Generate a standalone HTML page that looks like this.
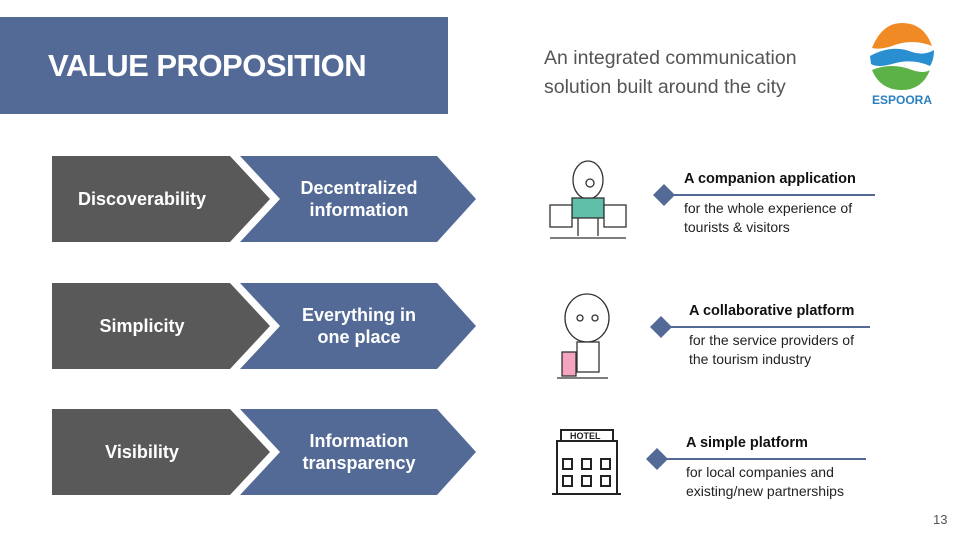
<!DOCTYPE html>
<html><head><meta charset="utf-8"><style>
body{margin:0;width:960px;height:540px;background:#fff;position:relative;overflow:hidden;font-family:"Liberation Sans",sans-serif}
.a{position:absolute}
.chev{color:#fff;font-weight:bold;font-size:18px;text-align:center;line-height:22px;display:flex;align-items:center;justify-content:center}
.t{font-weight:bold;font-size:14.5px;color:#111}
.b{font-size:14px;color:#222;line-height:19px}
</style></head><body>
<div class="a" style="left:0;top:17px;width:448px;height:97px;background:#546a96"></div>
<div class="a" style="left:48px;top:48px;color:#fff;font-weight:bold;font-size:31px;letter-spacing:-0.5px">VALUE PROPOSITION</div>
<div class="a" style="left:544px;top:44px;color:#555;font-size:19.5px;line-height:29px">An integrated communication<br>solution built around the city</div>
<svg class="a" style="left:862px;top:18px" width="80" height="90" viewBox="0 0 80 90">
<path d="M10 30 Q20 5 40 5 Q62 5 70 28 Q50 20 30 28 Q18 32 10 30Z" fill="#f08a24"/>
<path d="M8 38 Q30 26 50 34 Q62 38 72 32 Q72 42 68 48 Q50 40 30 46 Q16 50 9 46Z" fill="#2a8fd0"/>
<path d="M10 52 Q30 44 50 52 Q62 56 68 52 Q60 72 40 72 Q18 72 10 52Z" fill="#5cb247"/>
<text x="40" y="86" text-anchor="middle" font-family="Liberation Sans" font-weight="bold" font-size="12" fill="#2a7fc0">ESPOORA</text>
</svg>

<svg class="a" style="left:0;top:0" width="960" height="540">
<g>
<polygon points="52,156 230,156 270,199 230,242 52,242" fill="#595959"/>
<polygon points="240,156 437,156 476,199 437,242 240,242 280,199" fill="#546a96"/>
</g>
<g>
<polygon points="52,283 230,283 270,326 230,369 52,369" fill="#595959"/>
<polygon points="240,283 437,283 476,326 437,369 240,369 280,326" fill="#546a96"/>
</g>
<g>
<polygon points="52,409 230,409 270,452 230,495 52,495" fill="#595959"/>
<polygon points="240,409 437,409 476,452 437,495 240,495 280,452" fill="#546a96"/>
</g>
<g stroke="#546a96" stroke-width="2">
<line x1="664" y1="195" x2="875" y2="195"/><line x1="661" y1="327" x2="870" y2="327"/><line x1="657" y1="459" x2="866" y2="459"/>
</g>
<g fill="#546a96">
<polygon points="664,184 675,195 664,206 653,195"/><polygon points="661,316 672,327 661,338 650,327"/><polygon points="657,448 668,459 657,470 646,459"/>
</g>
<g fill="none" stroke="#333" stroke-width="1.3">
<ellipse cx="588" cy="180" rx="15" ry="19" fill="#fff"/><circle cx="590" cy="183" r="4"/>
<rect x="572" y="198" width="32" height="20" fill="#5fbfa8"/>
<rect x="550" y="205" width="22" height="22" fill="#fff"/><rect x="604" y="205" width="22" height="22" fill="#fff"/>
<line x1="578" y1="218" x2="578" y2="236"/><line x1="598" y1="218" x2="598" y2="236"/><line x1="550" y1="238" x2="626" y2="238"/>
</g>
<g fill="none" stroke="#333" stroke-width="1.3">
<ellipse cx="587" cy="318" rx="22" ry="24" fill="#fff"/><circle cx="580" cy="318" r="3"/><circle cx="595" cy="318" r="3"/>
<rect x="577" y="342" width="22" height="30" fill="#fff"/><rect x="562" y="352" width="14" height="24" fill="#f3a5c0"/>
<line x1="557" y1="378" x2="608" y2="378"/>
</g>
<g fill="none" stroke="#222" stroke-width="2">
<rect x="561" y="430" width="52" height="11"/><rect x="557" y="441" width="60" height="53"/>
<rect x="563" y="459" width="9" height="10"/><rect x="582" y="459" width="9" height="10"/><rect x="601" y="459" width="9" height="10"/>
<rect x="563" y="476" width="9" height="10"/><rect x="582" y="476" width="9" height="10"/><rect x="601" y="476" width="9" height="10"/>
<line x1="552" y1="494" x2="621" y2="494"/>
</g>
<text x="570" y="439" font-family="Liberation Sans" font-weight="bold" font-size="9" fill="#222">HOTEL</text>
</svg>

<div class="a chev" style="left:52px;top:156px;width:180px;height:86px">Discoverability</div>
<div class="a chev" style="left:270px;top:156px;width:178px;height:86px">Decentralized<br>information</div>
<div class="a chev" style="left:52px;top:283px;width:180px;height:86px">Simplicity</div>
<div class="a chev" style="left:270px;top:283px;width:178px;height:86px">Everything in<br>one place</div>
<div class="a chev" style="left:52px;top:409px;width:180px;height:86px">Visibility</div>
<div class="a chev" style="left:270px;top:409px;width:178px;height:86px">Information<br>transparency</div>

<div class="a t" style="left:684px;top:171px">A companion application</div>
<div class="a b" style="left:684px;top:199px">for the whole experience of<br>tourists &amp; visitors</div>
<div class="a t" style="left:689px;top:303px">A collaborative platform</div>
<div class="a b" style="left:689px;top:331px">for the service providers of<br>the tourism industry</div>
<div class="a t" style="left:686px;top:435px">A simple platform</div>
<div class="a b" style="left:686px;top:463px">for local companies and<br>existing/new partnerships</div>
<div class="a" style="left:933px;top:512px;font-size:13px;color:#555">13</div>
</body></html>
